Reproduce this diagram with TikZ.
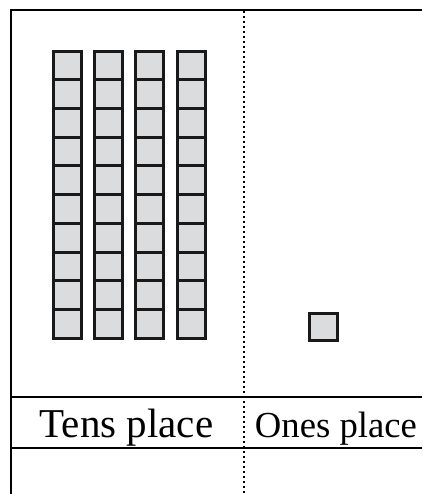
\documentclass[tikz,border=0pt]{standalone}
\usepackage{fontspec}
\setmainfont{Liberation Serif}
\definecolor{blockgray}{RGB}{219,220,222}
\tikzset{block/.style={draw=black!90,fill=blockgray,line width=3pt}}

\begin{document}
\begin{tikzpicture}[x=1pt,y=-1pt,line width=2.4pt]
  \useasboundingbox (0,0) rectangle (422,494);
  % frame and rows
  \draw (422,10) -- (11,10) -- (11,494);
  \draw (11,397) -- (422,397);
  \draw (11,448) -- (422,448);
  \draw[line width=2pt,dash pattern=on 2pt off 3pt] (244,11) -- (244,494);
  % tens rods
  \foreach \col in {0,...,3}
    \foreach \row in {0,...,9}
      \draw[block] (53+41.4*\col,51.2+28.7*\row) rectangle ++(28,28.7);
  % one cube
  \draw[block] (309,313) rectangle (337,340.5);
  \node[anchor=base] (tens) at (126.5,437) {\fontsize{41}{41}\selectfont Tens place};
  \node[anchor=base] (ones) at (336,437) {\fontsize{36.7}{37}\selectfont Ones place};
\end{tikzpicture}
\end{document}
